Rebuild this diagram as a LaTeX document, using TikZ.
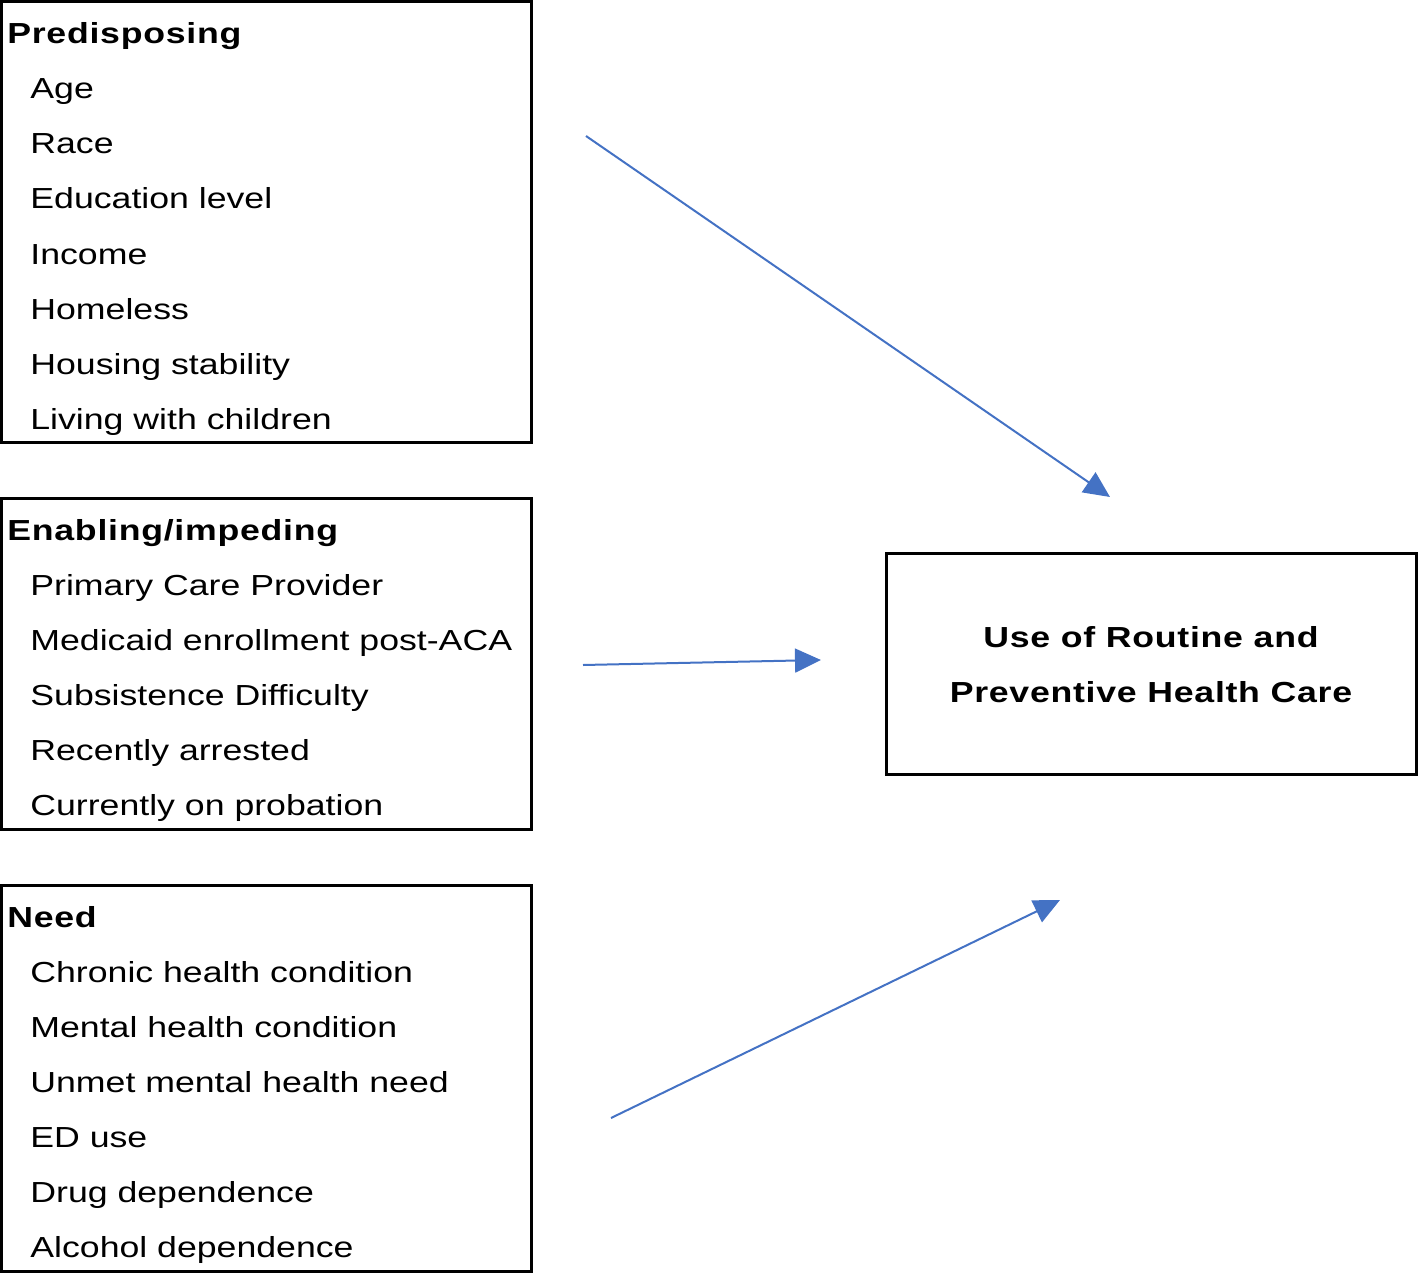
\documentclass[tikz,border=0pt]{standalone}
\usepackage{fontspec}
\setmainfont{Liberation Sans}[FakeStretch=1.23, BoldFeatures={LetterSpace=2.5}]
\usetikzlibrary{arrows.meta,fit}
\definecolor{arrowblue}{HTML}{4472C4}
\tikzset{
  box/.style={draw=black, line width=1.5pt, inner sep=0pt, rectangle},
  heading/.style={anchor=base west, inner sep=0pt, font=\fontsize{14.5pt}{16pt}\selectfont\bfseries},
  item/.style={anchor=base west, inner sep=0pt, font=\fontsize{14.5pt}{16pt}\selectfont},
  outtext/.style={anchor=base, inner sep=0pt, font=\fontsize{14.5pt}{16pt}\selectfont\bfseries},
  arr/.style={draw=arrowblue, line width=1pt, -{Triangle[length=13pt,width=12pt]}}
}
\begin{document}
\begin{tikzpicture}[x=0.5pt,y=-0.5pt]
\useasboundingbox (0,0) rectangle (1418,1273);
% boxes
\coordinate (p1a) at (1.5,1.5);   \coordinate (p1b) at (531,442);
\coordinate (p2a) at (1.5,498);   \coordinate (p2b) at (531,829);
\coordinate (p3a) at (1.5,885);   \coordinate (p3b) at (531,1271);
\coordinate (poa) at (886,553);   \coordinate (pob) at (1416,774);
\node[box, fit=(p1a)(p1b)] (pred) {};
\node[box, fit=(p2a)(p2b)] (enab) {};
\node[box, fit=(p3a)(p3b)] (need) {};
\node[box, fit=(poa)(pob)] (outc) {};
% predisposing
\node[heading] (h1) at (7,44) {Predisposing};
\node[item] (i11) at (30,99) {Age};
\node[item] (i12) at (30,154) {Race};
\node[item] (i13) at (30,209) {Education level};
\node[item] (i14) at (30,264) {Income};
\node[item] (i15) at (30,319) {Homeless};
\node[item] (i16) at (30,374) {Housing stability};
\node[item] (i17) at (30,429) {Living with children};
% enabling
\node[heading] (h2) at (7,540) {Enabling/impeding};
\node[item] (i21) at (30,595) {Primary Care Provider};
\node[item] (i22) at (30,650) {Medicaid enrollment post-ACA};
\node[item] (i23) at (30,705) {Subsistence Difficulty};
\node[item] (i24) at (30,760) {Recently arrested};
\node[item] (i25) at (30,815) {Currently on probation};
% need
\node[heading] (h3) at (7,927) {Need};
\node[item] (i31) at (30,982) {Chronic health condition};
\node[item] (i32) at (30,1037) {Mental health condition};
\node[item] (i33) at (30,1092) {Unmet mental health need};
\node[item] (i34) at (30,1147) {ED use};
\node[item] (i35) at (30,1202) {Drug dependence};
\node[item] (i36) at (30,1257) {Alcohol dependence};
% outcome
\node[outtext] (o1) at (1151,647) {Use of Routine and};
\node[outtext] (o2) at (1151,702) {Preventive Health Care};
% arrows
\coordinate (a1s) at (586,136);  \coordinate (a1e) at (1110,497);
\coordinate (a2s) at (583,665);  \coordinate (a2e) at (821,660);
\coordinate (a3s) at (611,1118); \coordinate (a3e) at (1060,900);
\draw[arr] (a1s) -- (a1e);
\draw[arr] (a2s) -- (a2e);
\draw[arr] (a3s) -- (a3e);
\end{tikzpicture}
\end{document}
